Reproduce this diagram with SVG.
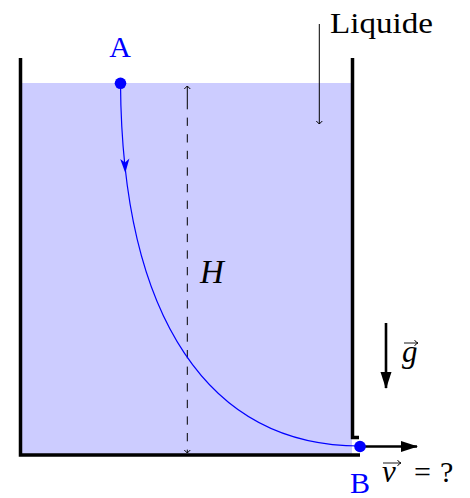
<svg xmlns="http://www.w3.org/2000/svg" width="470" height="498" viewBox="0 0 470 498">
<style>
.wall{stroke:#000;stroke-width:3.5;fill:none;stroke-linecap:butt}
text{font-family:'Liberation Serif',serif;fill:#000}
.blue{fill:#0000ff}
.it{font-style:italic}
.thin{stroke:#000;stroke-width:1;fill:none}
.thick{stroke:#000;stroke-width:2.6;fill:none}
</style>
<defs>
<marker id="chev" viewBox="-4 -4 8 8" markerWidth="8" markerHeight="8" refX="0" refY="0" orient="auto" markerUnits="userSpaceOnUse">
<path d="M-3,-3 L0,0 L-3,3" fill="none" stroke="#000" stroke-width="1"/>
</marker>
<marker id="big" viewBox="-17 -6 19 12" markerWidth="19" markerHeight="12" refX="0" refY="0" orient="auto" markerUnits="userSpaceOnUse">
<path d="M1,0 L-16,-5.5 L-16,5.5 Z" fill="#000"/>
</marker>
<marker id="vec" viewBox="-5 -4 6 8" markerWidth="6" markerHeight="8" refX="0" refY="0" orient="auto" markerUnits="userSpaceOnUse">
<path d="M-3.5,-3 Q-2,-0.5 0,0 Q-2,0.5 -3.5,3" fill="none" stroke="#000" stroke-width="0.9"/>
</marker>
</defs>
<g id="liquid">
<rect x="21" y="83" width="331" height="372" fill="#ccccff"/>
</g>
<g id="container">
<path class="wall" d="M20.5,58 V455 H360"/>
<path class="wall" d="M352.5,58 V437.5 H359"/>
</g>
<g id="connectors">
<line x1="187.3" y1="101" x2="187.3" y2="453" stroke="#000" stroke-width="1" stroke-dasharray="8.3 8.3" marker-end="url(#chev)"/>
<line x1="187.3" y1="101" x2="187.3" y2="86" stroke="#000" stroke-width="1" marker-end="url(#chev)"/>
<line class="thin" x1="319.3" y1="24" x2="319.3" y2="124" marker-end="url(#chev)"/>
<path d="M120.5,83 C122,320 210,446 360,446" fill="none" stroke="#0000ff" stroke-width="1.2"/>
<path d="M125.3,173 L120.2,159 L125,162.5 L129.4,158.4 Z" fill="#0000ff"/>
<line class="thick" x1="386" y1="323" x2="386" y2="388" marker-end="url(#big)"/>
<line class="thick" x1="360" y1="446.5" x2="417" y2="446.5" marker-end="url(#big)"/>
</g>
<g id="nodeA">
<circle cx="120.5" cy="83.3" r="5.8" fill="#0000ff"/>
<text class="blue" x="120" y="57" font-size="30" text-anchor="middle" font-family="Liberation Serif">A</text>
</g>
<g id="nodeB">
<circle cx="360" cy="446.5" r="5.8" fill="#0000ff"/>
<text class="blue" x="360" y="493" font-size="30" text-anchor="middle" font-family="Liberation Serif">B</text>
</g>
<g id="labels">
<text x="330" y="33" font-size="30" textLength="103" lengthAdjust="spacingAndGlyphs" font-family="Liberation Serif">Liquide</text>
<text class="it" x="200" y="283" font-size="33" font-family="Liberation Serif">H</text>
<text class="it" x="402" y="362" font-size="31" font-family="Liberation Serif">g</text>
<line x1="404" y1="343" x2="418" y2="343" stroke="#000" stroke-width="0.9" marker-end="url(#vec)"/>
<text class="it" x="382" y="482" font-size="31" font-family="Liberation Serif">v</text>
<line x1="383" y1="463" x2="401" y2="463" stroke="#000" stroke-width="0.9" marker-end="url(#vec)"/>
<text x="414" y="482" font-size="30" font-family="Liberation Serif">=</text>
<text x="440" y="482" font-size="30" font-family="Liberation Serif">?</text>
</g>
</svg>
